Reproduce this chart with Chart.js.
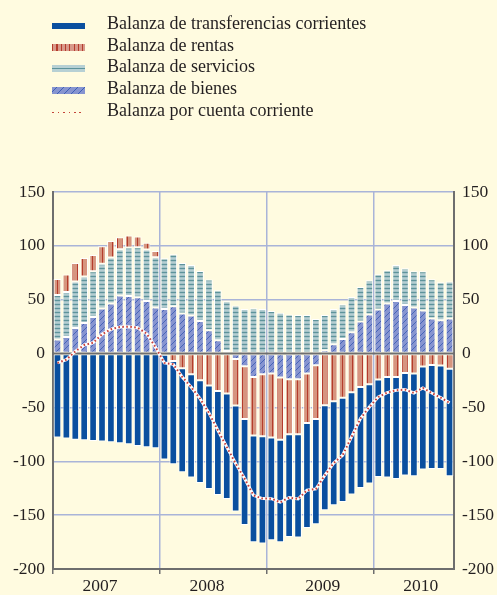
<!DOCTYPE html>
<html lang="es">
<head>
<meta charset="UTF-8">
<title>Balanza por cuenta corriente</title>
<script src="https://cdn.jsdelivr.net/npm/chart.js"></script>
<style>
  body { margin: 0; background: #fffbe0; }
  .wrap {
    position: relative;
    width: 497px;
    height: 595px;
    background: #fffbe0;
    font-family: 'Liberation Serif', 'Times New Roman', serif;
    color: #231f20;
  }
  .legend {
    position: absolute;
    left: 0;
    top: 13px;
    margin: 0;
    padding: 0;
    list-style: none;
    z-index: 2;
  }
  .legend li {
    position: relative;
    height: 21.7px;
    line-height: 21.7px;
    font-size: 18px;
    padding-left: 107px;
    white-space: nowrap;
  }
  .legend .sw { position: absolute; left: 52px; width: 33px; }
  .sw.transf { top: 10px; height: 6px; background: #0a4f9f; }
  .sw.rentas {
    top: 9px; height: 7px;
    background: repeating-linear-gradient(90deg, #b43c2c 0 1.2px, #d8998a 1.2px 4.3px);
  }
  .sw.servicios {
    top: 9px; height: 7px;
    background: linear-gradient(#b7d0d4 0 3px, #5d939b 3px 4.5px, #b7d0d4 4.5px);
  }
  .sw.bienes {
    top: 9px; height: 7px;
    background: repeating-linear-gradient(135deg, #8694d0 0 3px, #3e5fb5 3px 4px, #8694d0 4px 5px);
  }
  .sw.cc {
    top: 12px; height: 1.6px;
    background: repeating-linear-gradient(90deg, #c4453a 0 1.6px, transparent 1.6px 5.5px);
  }
  #grafico { position: absolute; left: 0; top: 0; }
</style>
</head>
<body>
<div class="wrap">
  <ul class="legend">
    <li><span class="sw transf"></span>Balanza de transferencias corrientes</li>
    <li><span class="sw rentas"></span>Balanza de rentas</li>
    <li><span class="sw servicios"></span>Balanza de servicios</li>
    <li><span class="sw bienes"></span>Balanza de bienes</li>
    <li><span class="sw cc"></span>Balanza por cuenta corriente</li>
  </ul>
  <canvas id="grafico" width="497" height="595"></canvas>
</div>

<script>
// meses de ene 2007 a sep 2010
const meses = [
  'ene 07', 'feb 07', 'mar 07', 'abr 07', 'may 07', 'jun 07', 'jul 07', 'ago 07', 'sep 07', 'oct 07', 'nov 07', 'dic 07',
  'ene 08', 'feb 08', 'mar 08', 'abr 08', 'may 08', 'jun 08', 'jul 08', 'ago 08', 'sep 08', 'oct 08', 'nov 08', 'dic 08',
  'ene 09', 'feb 09', 'mar 09', 'abr 09', 'may 09', 'jun 09', 'jul 09', 'ago 09', 'sep 09', 'oct 09', 'nov 09', 'dic 09',
  'ene 10', 'feb 10', 'mar 10', 'abr 10', 'may 10', 'jun 10', 'jul 10', 'ago 10', 'sep 10'
];

// rotulos de año en el eje horizontal
const rotulosAnio = { 'jun 07': '2007', 'jun 08': '2008', 'jul 09': '2009', 'jun 10': '2010' };
const ticksY = [-200, -150, -100, -50, 0, 50, 100, 150];

const bienes = [
  13.0, 15.4, 23.8, 28.4, 34.0, 41.8, 46.4, 53.8, 53.5, 52.3, 48.8, 42.7,
  41.4, 43.9, 37.1, 35.3, 30.3, 21.6, 12.3, 2.4, -5.0, -11.8, -21.7, -19.2,
  -18.6, -22.3, -23.9, -23.9, -18.6, -10.9, 3.1, 8.6, 13.6, 19.8, 29.7, 36.2,
  40.8, 46.4, 48.8, 45.1, 42.7, 39.9, 32.5, 30.9, 32.5
];
const servicios = [
  41.4, 41.8, 43.0, 43.1, 42.4, 41.7, 42.7, 43.0, 44.9, 46.4, 47.8, 46.7,
  47.1, 48.3, 47.0, 47.0, 46.4, 47.1, 46.5, 46.2, 44.6, 41.4, 42.1, 41.4,
  39.6, 38.0, 36.2, 35.8, 35.8, 32.1, 32.7, 32.8, 32.2, 32.8, 32.1, 31.9,
  32.8, 30.9, 33.5, 34.1, 33.7, 36.5, 36.5, 35.3, 34.4
];
const rentas = [
  14.9, 16.1, 17.3, 17.3, 15.2, 16.1, 15.5, 11.2, 11.1, 9.9, 6.4, 5.9,
  -1.0, -6.8, -13.6, -19.2, -24.8, -29.7, -34.7, -37.1, -43.3, -48.9, -54.4, -57.6,
  -59.4, -57.6, -51.0, -51.0, -45.8, -49.8, -48.0, -44.3, -40.9, -35.9, -31.0, -28.5,
  -24.1, -21.7, -21.7, -18.0, -18.6, -12.1, -10.6, -11.1, -14.0
];
const transferencias = [
  -78.0, -78.9, -79.9, -80.5, -81.1, -81.7, -82.4, -83.3, -84.2, -85.8, -87.0, -87.9,
  -97.4, -96.0, -96.6, -95.9, -95.3, -96.0, -96.6, -97.9, -98.4, -98.4, -99.1, -99.6,
  -95.4, -95.3, -95.4, -95.9, -97.5, -97.8, -97.5, -96.6, -96.9, -95.0, -93.8, -92.2,
  -90.5, -93.4, -94.7, -95.3, -95.3, -95.6, -96.5, -96.0, -99.9
];
const cuentaCorriente = [
  -8.7, -5.6, 2.0, 8.0, 10.0, 17.9, 22.6, 24.7, 25.0, 24.0, 18.6, 6.0,
  -8.7, -10.0, -21.7, -31.0, -41.8, -55.1, -71.2, -86.7, -102.1, -116.0, -131.6, -134.6,
  -134.7, -138.0, -133.7, -135.0, -126.9, -125.7, -113.0, -101.6, -94.4, -77.4, -60.4, -49.6,
  -40.3, -36.2, -34.1, -33.4, -36.6, -31.9, -36.6, -40.9, -45.8
];

const canvas = document.getElementById('grafico');
const ctx = canvas.getContext('2d');

function trama(w, h, pintar) {
  const c = document.createElement('canvas');
  c.width = w;
  c.height = h;
  pintar(c.getContext('2d'));
  return ctx.createPattern(c, 'repeat');
}

// rayas verticales (rentas)
const tramaRentas = trama(5, 1, g => {
  g.fillStyle = '#d6957f';
  g.fillRect(0, 0, 5, 1);
  g.fillStyle = '#b43c2c';
  g.fillRect(2, 0, 1, 1);
});
// rayas horizontales (servicios)
const tramaServicios = trama(1, 4, g => {
  g.fillStyle = '#a3c2c7';
  g.fillRect(0, 0, 1, 4);
  g.fillStyle = '#5d939b';
  g.fillRect(0, 0, 1, 1);
  g.fillStyle = '#b5ced2';
  g.fillRect(0, 2, 1, 1);
});
// diagonales (bienes)
const tramaBienes = trama(6, 6, g => {
  g.fillStyle = '#8694d0';
  g.fillRect(0, 0, 6, 6);
  g.strokeStyle = '#3e5fb5';
  g.lineWidth = 0.9;
  g.beginPath();
  g.moveTo(0, 6);
  g.lineTo(6, 0);
  g.stroke();
});

const rejilla = '#a9b4d8';
const ejeGris = '#6e6e6e';

// linea del cero por encima de las barras
const lineaCero = {
  id: 'lineaCero',
  afterDatasetDraw(chart, args) {
    if (args.index !== 0) return;
    const y = chart.scales.y.getPixelForValue(0);
    const { left, right } = chart.chartArea;
    const c = chart.ctx;
    c.save();
    c.strokeStyle = ejeGris;
    c.lineWidth = 2;
    c.beginPath();
    c.moveTo(left, y);
    c.lineTo(right, y);
    c.stroke();
    c.restore();
  }
};

Chart.defaults.font.family = "'Liberation Serif', 'Times New Roman', serif";
Chart.defaults.font.size = 17.5;
Chart.defaults.color = '#231f20';

const barra = {
  type: 'bar',
  stack: 'balanza',
  order: 2,
  borderColor: '#ffffff',
  borderWidth: 1,
  borderSkipped: false,
  barPercentage: 0.86,
  categoryPercentage: 1.0
};

new Chart(ctx, {
  data: {
    labels: meses,
    datasets: [
      { ...barra, label: 'Balanza de bienes', data: bienes, backgroundColor: tramaBienes },
      { ...barra, label: 'Balanza de servicios', data: servicios, backgroundColor: tramaServicios },
      { ...barra, label: 'Balanza de rentas', data: rentas, backgroundColor: tramaRentas },
      { ...barra, label: 'Balanza de transferencias corrientes', data: transferencias, backgroundColor: '#0a4f9f' },
      {
        type: 'line', label: 'fondo', data: cuentaCorriente, yAxisID: 'y2', order: 1,
        borderColor: '#ffffff', borderWidth: 3, pointRadius: 0, tension: 0
      },
      {
        type: 'line', label: 'Balanza por cuenta corriente', data: cuentaCorriente, yAxisID: 'y2', order: 0,
        borderColor: '#c8403a', borderWidth: 2, borderDash: [1.6, 2.4], pointRadius: 0, tension: 0
      }
    ]
  },
  options: {
    responsive: false,
    animation: false,
    layout: { padding: { top: 192, left: 0, right: 0, bottom: 0 } },
    plugins: {
      legend: { display: false },
      tooltip: { enabled: false }
    },
    scales: {
      x: {
        stacked: true,
        offset: true,
        afterFit: s => { s.height = 26; },
        border: { display: true, color: ejeGris, width: 2 },
        grid: {
          offset: true,
          lineWidth: 1.5,
          tickLength: 5,
          color: c => (c.index % 12 === 0 ? rejilla : 'rgba(0,0,0,0)'),
          tickColor: c => (c.index % 12 === 0 ? ejeGris : 'rgba(0,0,0,0)'),
          tickWidth: 1.5
        },
        ticks: {
          autoSkip: false,
          maxRotation: 0,
          padding: 2,
          labelOffset: -2,
          callback: (v, i) => rotulosAnio[meses[i]] || ''
        }
      },
      y: {
        stacked: true,
        position: 'left',
        min: -200,
        max: 150,
        afterFit: s => { s.width = 53; },
        afterBuildTicks: s => { s.ticks = ticksY.map(v => ({ value: v })); },
        border: { display: true, color: ejeGris, width: 2 },
        grid: {
          drawTicks: false,
          lineWidth: 1.5,
          color: c => (c.tick.value === 0 || c.tick.value === -200 ? 'rgba(0,0,0,0)' : rejilla)
        },
        ticks: { padding: 8 }
      },
      y2: {
        position: 'right',
        min: -200,
        max: 150,
        afterFit: s => { s.width = 43; },
        afterBuildTicks: s => { s.ticks = ticksY.map(v => ({ value: v })); },
        border: { display: true, color: ejeGris, width: 2 },
        grid: { display: false, drawTicks: false },
        ticks: { padding: 8 }
      }
    }
  },
  plugins: [lineaCero]
});
</script>
</body>
</html>
